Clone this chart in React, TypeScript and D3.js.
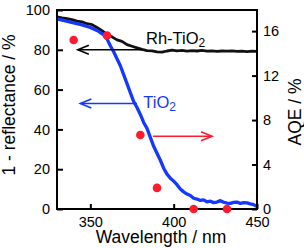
import React, {useEffect, useRef} from 'react';
import * as d3 from 'd3';

// Rh-TiO2 (black), 1 - reflectance / %
const rhWave = [330, 333, 336, 339, 342, 345, 348, 351, 354, 357, 360, 363, 366, 369, 372, 375, 378, 381, 384, 387, 390, 393, 396, 399, 402, 405, 408, 411, 414, 417, 420, 423, 426, 429, 432, 435, 438, 441, 444, 447, 450];
const rhRefl = [96.5, 96, 95.6, 95.2, 94.4, 94, 93.1, 92.6, 91.2, 89.6, 87.6, 86.5, 85, 84.2, 82.6, 81.8, 81, 80.2, 79.6, 79.5, 79, 78.8, 79.4, 79.8, 79.5, 79.7, 79.3, 79.6, 79.4, 79.7, 79.3, 79.5, 79.2, 79.4, 79.3, 79.5, 79.2, 79.3, 79.1, 79.3, 79.2];

// TiO2 (blue), 1 - reflectance / %
const tiWave = [330, 335, 340, 345, 350, 355, 358, 360, 362, 364, 366, 368, 370, 372, 374, 376, 378, 380, 382, 384, 386, 388, 390, 392, 394, 396, 398, 400, 402, 404, 406, 408, 410, 412, 414, 416, 418, 420, 422, 424, 426, 428, 430, 432, 434, 436, 438, 440, 442, 444, 446, 448, 450];
const tiRefl = [95.5, 94.5, 93.5, 92.5, 91.2, 89.3, 87.5, 85.5, 82, 79, 75.5, 72, 67.5, 63, 58.5, 54, 51, 47.5, 43.5, 40.5, 36, 31.5, 28, 24.5, 20.5, 17.5, 15.5, 14, 12.2, 10, 8.6, 7.5, 6.8, 5.4, 5, 4.3, 4.6, 3.6, 3.9, 3.2, 3.5, 4.2, 3.4, 3, 2.8, 3.3, 3.5, 2.8, 3.2, 3.1, 2.6, 2.2, 1.2];

// AQE points (red), right axis
const aqeWave = [340, 360, 380, 390, 412, 432];
const aqeValue = [15.2, 15.6, 6.65, 1.9, 0, 0];

const xTicks = [350, 400, 450];
const leftTicks = [0, 20, 40, 60, 80, 100];
const rightTicks = [0, 4, 8, 12, 16];

const W = 304, H = 248;
const m = {left: 57, right: 257, top: 10, bottom: 209};
const FONT = '"Liberation Sans", Arial, sans-serif';
const BLUE = '#1438ff';
const RED = '#ff1a2e';

export default function App() {
    const ref = useRef<SVGSVGElement>(null);

    useEffect(() => {
        const svg = d3.select(ref.current);
        svg.selectAll('*').remove();

        const x = d3.scaleLinear().domain([330, 450]).range([m.left, m.right]);
        const yL = d3.scaleLinear().domain([0, 100]).range([m.bottom, m.top]);
        const yR = d3.scaleLinear().domain([0, 17.9]).range([m.bottom, m.top]);

        const line = d3.line<[number, number]>()
            .x(d => x(d[0]))
            .y(d => yL(d[1]));

        const rh = rhWave.map((w, i) => [w, rhRefl[i]] as [number, number]);
        const ti = tiWave.map((w, i) => [w, tiRefl[i]] as [number, number]);

        svg.append('path')
            .attr('d', line(rh))
            .attr('fill', 'none')
            .attr('stroke', '#111')
            .attr('stroke-width', 2.8)
            .attr('stroke-linejoin', 'round');

        svg.append('path')
            .attr('d', line(ti))
            .attr('fill', 'none')
            .attr('stroke', BLUE)
            .attr('stroke-width', 3.3)
            .attr('stroke-linejoin', 'round');

        // frame
        svg.append('rect')
            .attr('x', m.left)
            .attr('y', m.top)
            .attr('width', m.right - m.left)
            .attr('height', m.bottom - m.top)
            .attr('fill', 'none')
            .attr('stroke', '#000')
            .attr('stroke-width', 2);

        const styleAxis = (g: any) => {
            g.select('.domain').remove();
            g.selectAll('line').attr('stroke', '#000').attr('stroke-width', 2);
            g.selectAll('text')
                .attr('fill', '#000')
                .style('font-family', FONT)
                .style('font-size', '14.5px');
        };

        svg.append('g')
            .attr('transform', `translate(0,${m.bottom})`)
            .call(d3.axisBottom(x).tickValues(xTicks).tickSizeInner(-5).tickSizeOuter(0).tickPadding(7.5).tickFormat(d3.format('d')))
            .call(styleAxis);

        svg.append('g')
            .attr('transform', `translate(${m.left},0)`)
            .call(d3.axisLeft(yL).tickValues(leftTicks).tickSizeInner(-6).tickSizeOuter(0).tickPadding(7).tickFormat(d3.format('d')))
            .call(styleAxis);

        svg.append('g')
            .attr('transform', `translate(${m.right},0)`)
            .call(d3.axisRight(yR).tickValues(rightTicks).tickSizeInner(-5).tickSizeOuter(0).tickPadding(6).tickFormat(d3.format('d')))
            .call(styleAxis);

        // AQE dots
        svg.append('g')
            .selectAll('circle')
            .data(aqeWave.map((w, i) => [w, aqeValue[i]]))
            .join('circle')
            .attr('cx', d => x(d[0]))
            .attr('cy', d => yR(d[1]))
            .attr('r', 4.3)
            .attr('fill', RED);

        // arrows
        const arrow = (x0: number, y0: number, x1: number, y1: number, color: string) => {
            const dir = Math.sign(x1 - x0);
            const g = svg.append('g')
                .attr('fill', 'none')
                .attr('stroke', color)
                .attr('stroke-width', 1.6);
            g.append('line').attr('x1', x0).attr('y1', y0).attr('x2', x1).attr('y2', y1);
            g.append('polyline')
                .attr('points', `${x1 - dir * 11},${y1 - 4.5} ${x1},${y1} ${x1 - dir * 11},${y1 + 4.5}`);
        };
        arrow(x(381), yL(80), x(342.5), yL(80), '#000');
        arrow(x(378), yL(53), x(344), yL(53), BLUE);
        arrow(x(387.5), yR(6.55), x(423), yR(6.55), RED);

        // series labels
        const label = (px: number, py: number, main: string, color: string) => {
            const t = svg.append('text')
                .attr('x', px)
                .attr('y', py)
                .attr('fill', color)
                .style('font-family', FONT)
                .style('font-size', '16.5px');
            t.append('tspan').text(main);
            t.append('tspan').attr('dy', 3).style('font-size', '12px').text('2');
        };
        label(x(383.4), yL(83), 'Rh-TiO', '#000');
        label(x(381.8), yL(50.6), 'TiO', BLUE);

        // axis titles
        svg.append('text')
            .attr('x', (m.left + m.right) / 2 + 4)
            .attr('y', 242.5)
            .attr('text-anchor', 'middle')
            .style('font-family', FONT)
            .style('font-size', '17.5px')
            .text('Wavelength / nm');

        svg.append('text')
            .attr('transform', `translate(15,105) rotate(-90)`)
            .attr('text-anchor', 'middle')
            .style('font-family', FONT)
            .style('font-size', '17.5px')
            .text('1 - reflectance / %');

        svg.append('text')
            .attr('transform', `translate(301,112) rotate(-90)`)
            .attr('text-anchor', 'middle')
            .style('font-family', FONT)
            .style('font-size', '17.5px')
            .text('AQE / %');
    }, []);

    return (
        <svg ref={ref} width={W} height={H} style={{position: 'absolute', left: 0, top: 0, background: '#fff'}} />
    );
}
